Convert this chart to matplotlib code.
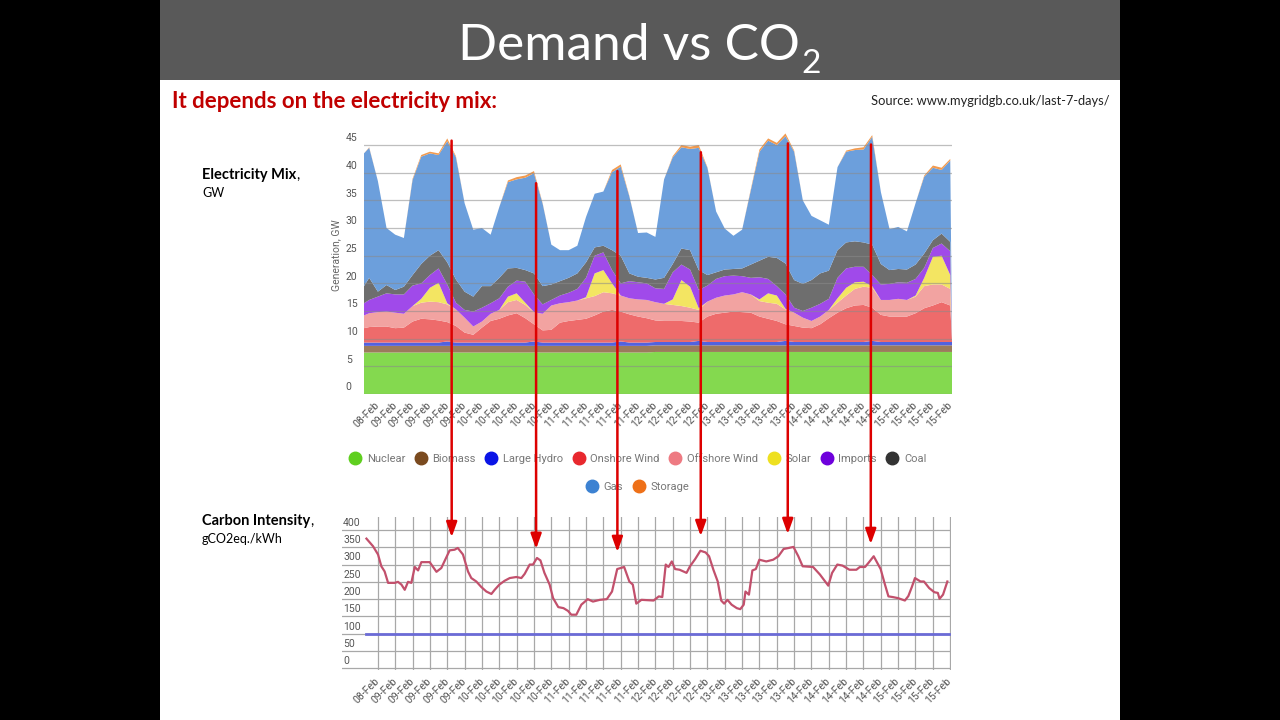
import matplotlib
matplotlib.use("Agg")
import matplotlib.pyplot as plt
from matplotlib.patches import Rectangle, ConnectionPatch
from matplotlib.lines import Line2D

# x values are in "label slots": 0 = the first 08-Feb label, 33 = the last 15-Feb label
date_labels = [
    "08-Feb",
    "09-Feb", "09-Feb", "09-Feb", "09-Feb", "09-Feb",
    "10-Feb", "10-Feb", "10-Feb", "10-Feb", "10-Feb",
    "11-Feb", "11-Feb", "11-Feb", "11-Feb", "11-Feb",
    "12-Feb", "12-Feb", "12-Feb", "12-Feb",
    "13-Feb", "13-Feb", "13-Feb", "13-Feb", "13-Feb",
    "14-Feb", "14-Feb", "14-Feb", "14-Feb", "14-Feb",
    "15-Feb", "15-Feb", "15-Feb", "15-Feb",
]

# generation mix, GW
mix_x = [-0.8, -0.5, 0.0, 0.5, 1.0, 1.5, 2.0, 2.5, 3.0, 3.5,
         4.0, 4.5, 5.0, 5.5, 6.0, 6.5, 7.0, 7.5, 8.0, 8.5,
         9.0, 9.5, 10.0, 10.5, 11.0, 11.5, 12.0, 12.5, 13.0, 13.5,
         14.0, 14.5, 15.0, 15.5, 16.0, 16.5, 17.0, 17.5, 18.0, 18.5,
         19.0, 19.5, 20.0, 20.5, 21.0, 21.5, 22.0, 22.5, 23.0, 23.5,
         24.0, 24.5, 25.0, 25.5, 26.0, 26.5, 27.0, 27.5, 28.0, 28.5,
         29.0, 29.5, 30.0, 30.5, 31.0, 31.5, 32.0, 32.5, 33.0, 33.1]
nuclear = [7.5, 7.5, 7.5, 7.5, 7.5, 7.5, 7.5, 7.5, 7.5, 7.5,
           7.5, 7.5, 7.5, 7.5, 7.5, 7.5, 7.5, 7.5, 7.5, 7.5,
           7.5, 7.5, 7.5, 7.5, 7.5, 7.5, 7.5, 7.5, 7.5, 7.5,
           7.5, 7.5, 7.5, 7.5, 7.6, 7.6, 7.6, 7.6, 7.6, 7.6,
           7.6, 7.6, 7.6, 7.6, 7.6, 7.6, 7.6, 7.6, 7.6, 7.6,
           7.6, 7.6, 7.6, 7.6, 7.6, 7.6, 7.6, 7.6, 7.6, 7.6,
           7.6, 7.6, 7.6, 7.6, 7.6, 7.6, 7.6, 7.6, 7.6, 7.6]
biomass = [1.2, 1.2, 1.2, 1.2, 1.2, 1.2, 1.2, 1.2, 1.2, 1.2,
           1.2, 1.2, 1.2, 1.2, 1.2, 1.2, 1.2, 1.2, 1.2, 1.2,
           1.2, 1.2, 1.2, 1.2, 1.2, 1.2, 1.2, 1.2, 1.2, 1.2,
           1.2, 1.2, 1.2, 1.2, 1.2, 1.2, 1.2, 1.2, 1.2, 1.2,
           1.2, 1.2, 1.2, 1.2, 1.2, 1.2, 1.2, 1.2, 1.2, 1.2,
           1.2, 1.2, 1.2, 1.2, 1.2, 1.2, 1.2, 1.2, 1.2, 1.2,
           1.2, 1.2, 1.2, 1.2, 1.2, 1.2, 1.2, 1.2, 1.2, 1.2]
hydro = [0.6, 0.6, 0.6, 0.6, 0.6, 0.6, 0.6, 0.6, 0.6, 0.6,
         0.8, 0.6, 0.6, 0.6, 0.6, 0.6, 0.6, 0.6, 0.6, 0.6,
         0.8, 0.6, 0.6, 0.6, 0.6, 0.6, 0.6, 0.6, 0.6, 0.6,
         0.8, 0.6, 0.6, 0.6, 0.6, 0.6, 0.6, 0.6, 0.6, 0.8,
         0.6, 0.6, 0.6, 0.6, 0.6, 0.6, 0.6, 0.6, 0.6, 0.8,
         0.6, 0.6, 0.6, 0.6, 0.6, 0.6, 0.6, 0.6, 0.6, 0.8,
         0.6, 0.6, 0.6, 0.6, 0.6, 0.6, 0.6, 0.6, 0.6, 0.6]
onshore = [2.6, 2.8, 2.9, 2.9, 2.6, 2.7, 3.8, 4.3, 4.2, 4.0,
           3.5, 3.0, 1.8, 1.4, 2.7, 3.9, 4.3, 4.9, 5.3, 4.4,
           3.1, 2.2, 2.3, 3.6, 3.9, 4.1, 4.3, 4.9, 5.6, 5.9,
           5.4, 5.1, 4.7, 4.4, 3.9, 3.8, 3.8, 3.8, 3.7, 3.3,
           4.6, 5.1, 5.3, 5.5, 5.4, 5.3, 4.6, 4.2, 3.8, 3.0,
           2.9, 2.6, 2.5, 3.2, 4.3, 5.3, 6.1, 6.6, 6.7, 6.0,
           4.9, 4.6, 4.6, 4.6, 5.2, 6.1, 6.6, 7.2, 6.6, 0.0]
offshore = [2.3, 2.5, 2.6, 2.7, 2.8, 2.5, 2.8, 2.9, 3.2, 3.3,
            3.2, 3.0, 2.7, 1.5, 1.1, 1.3, 1.6, 2.4, 2.4, 2.4,
            2.2, 3.0, 4.4, 3.5, 3.4, 3.5, 3.7, 3.5, 3.5, 3.0,
            2.9, 2.9, 3.1, 3.3, 3.3, 3.1, 2.9, 2.7, 2.5, 2.3,
            2.7, 2.9, 3.1, 3.1, 3.6, 3.3, 2.8, 2.9, 3.1, 2.7,
            2.4, 1.8, 1.3, 1.4, 1.5, 1.8, 2.3, 3.0, 3.3, 3.6,
            2.7, 3.0, 3.2, 3.0, 3.0, 4.0, 3.8, 3.2, 3.0, 0.0]
solar = [0.0, 0.0, 0.0, 0.0, 0.0, 0.0, 0.0, 0.7, 2.5, 3.5,
         0.2, 0.0, 0.0, 0.0, 0.0, 0.0, 0.0, 1.0, 1.2, 0.4,
         0.0, 0.0, 0.0, 0.0, 0.0, 0.0, 0.2, 4.1, 4.0, 1.8,
         0.0, 0.0, 0.0, 0.0, 0.0, 0.0, 1.0, 4.7, 3.8, 0.3,
         0.0, 0.0, 0.0, 0.0, 0.0, 0.0, 0.3, 1.7, 1.5, 0.1,
         0.0, 0.0, 0.0, 0.0, 0.0, 0.8, 1.4, 1.2, 0.9, 0.3,
         0.0, 0.0, 0.0, 0.0, 0.2, 1.5, 5.0, 5.2, 2.5, 0.0]
imports = [2.2, 2.4, 2.8, 3.3, 3.3, 3.5, 3.7, 2.8, 2.3, 2.6,
           3.4, 1.2, 1.4, 2.7, 2.5, 1.9, 2.1, 1.8, 2.3, 3.8,
           3.2, 1.7, 1.0, 1.4, 1.7, 2.1, 3.5, 3.2, 3.2, 2.4,
           2.2, 3.1, 3.1, 3.0, 2.5, 2.7, 4.9, 2.8, 3.1, 3.3,
           2.9, 3.4, 3.5, 3.4, 2.9, 3.0, 4.0, 2.6, 1.7, 2.6,
           0.9, 1.2, 2.4, 2.3, 2.0, 3.7, 3.5, 2.8, 2.7, 2.0,
           2.8, 2.9, 3.0, 3.1, 3.0, 1.8, 1.6, 2.2, 4.3, 0.0]
coal = [3.1, 4.0, 0.9, 1.5, 0.8, 1.4, 1.9, 3.5, 3.5, 3.3,
        4.0, 4.2, 3.3, 2.7, 3.9, 3.1, 3.7, 3.3, 2.3, 2.1,
        3.8, 3.3, 2.8, 2.6, 2.7, 2.8, 2.8, 1.5, 1.2, 3.6,
        5.0, 1.4, 1.0, 1.0, 1.6, 2.0, 1.5, 2.9, 3.5, 3.6,
        1.9, 1.2, 1.2, 1.2, 1.4, 2.4, 3.0, 4.0, 5.1, 5.6,
        5.0, 4.9, 5.0, 5.5, 5.1, 5.0, 4.7, 4.6, 4.4, 5.5,
        3.7, 2.5, 2.4, 2.4, 2.6, 2.6, 1.4, 1.8, 1.7, 0.0]
gas = [24.0, 23.5, 20.0, 10.3, 10.0, 8.8, 17.2, 19.4, 18.5, 17.2,
       21.9, 22.1, 16.0, 12.1, 10.5, 9.3, 12.8, 15.6, 16.0, 16.7,
       18.1, 14.9, 7.2, 5.6, 5.0, 5.0, 8.2, 9.7, 9.8, 14.1,
       16.1, 13.9, 7.9, 8.2, 7.7, 17.8, 19.3, 18.3, 18.3, 22.1,
       19.4, 11.0, 7.4, 6.0, 7.0, 13.4, 19.7, 21.0, 20.4, 23.0,
       23.2, 15.1, 11.6, 9.6, 8.3, 15.0, 16.4, 16.5, 16.8, 19.5,
       13.0, 7.4, 7.6, 6.9, 11.1, 13.9, 13.1, 11.5, 14.7, 0.0]
storage = [0.0, 0.1, 0.0, 0.0, 0.0, 0.0, 0.2, 0.3, 0.3, 0.3,
           0.5, 0.2, 0.0, 0.0, 0.0, 0.0, 0.0, 0.3, 0.4, 0.4,
           0.4, 0.1, 0.0, 0.0, 0.0, 0.0, 0.0, 0.0, 0.0, 0.4,
           0.4, 0.1, 0.0, 0.0, 0.0, 0.0, 0.2, 0.4, 0.4, 0.5,
           0.1, 0.0, 0.0, 0.0, 0.0, 0.2, 0.4, 0.4, 0.4, 0.5,
           0.2, 0.0, 0.0, 0.0, 0.0, 0.0, 0.2, 0.3, 0.4, 0.3,
           0.0, 0.0, 0.0, 0.0, 0.0, 0.2, 0.4, 0.4, 0.3, 0.0]

sources = ["Nuclear", "Biomass", "Large Hydro", "Onshore Wind", "Offshore Wind",
           "Solar", "Imports", "Coal", "Gas", "Storage"]
fill_colors = ["#84d94f", "#9b7b5c", "#5262df", "#ee6b6b", "#f2a3a1",
               "#f3e562", "#a04aea", "#6e6e6e", "#6c9fdc", "#f29a4e"]
dot_colors = ["#5fcf1f", "#7a4a1f", "#0a14e6", "#e8282e", "#ee7a82",
              "#eee020", "#6e00dc", "#333333", "#3c82d2", "#ee7018"]

# carbon intensity, gCO2eq/kWh
ci_x = [-0.67, -0.29, 0.0, 0.19, 0.38, 0.58, 0.96, 1.15, 1.35, 1.54,
        1.73, 1.92, 2.12, 2.31, 2.5, 2.98, 3.37, 3.65, 4.13, 4.42,
        4.6, 4.9, 5.19, 5.38, 5.67, 5.96, 6.25, 6.54, 6.73, 7.0,
        7.3, 7.6, 7.98, 8.27, 8.46, 8.75, 8.94, 9.17, 9.37, 9.6,
        9.9, 10.1, 10.4, 10.7, 10.96, 11.15, 11.44, 11.73, 12.1, 12.4,
        12.8, 13.2, 13.5, 13.8, 14.2, 14.5, 14.7, 14.9, 15.2,
        15.9, 16.2, 16.4, 16.6, 16.76, 16.95, 17.14, 17.4, 17.8, 18.0,
        18.3, 18.6, 18.9, 19.1, 19.35, 19.6, 19.8, 19.97, 20.16, 20.4,
        20.7, 20.9, 21.1, 21.2, 21.4, 21.6, 21.8, 22.0, 22.4, 22.8,
        23.1, 23.4, 23.7, 23.97, 24.25, 24.5, 25.1, 25.5, 25.98, 26.2,
        26.5, 26.8, 27.2, 27.6, 27.8, 28.1, 28.3, 28.6, 29.0, 29.25,
        29.45, 29.7, 30.0, 30.4, 30.6, 30.8, 30.98, 31.3, 31.5, 31.8,
        32.1, 32.3, 32.4, 32.6, 32.85]
ci_values = [375, 353, 329, 295, 280, 247, 247, 250, 242, 227,
             250, 247, 293, 283, 307, 307, 279, 290, 341, 343,
             348, 329, 280, 261, 251, 235, 222, 215, 227, 242,
             253, 261, 264, 261, 273, 300, 300, 319, 312, 276,
             242, 203, 177, 174, 166, 155, 155, 184, 200, 193,
             198, 200, 222, 287, 293, 251, 242, 187, 198,
             196, 208, 206, 300, 293, 309, 287, 285, 276, 295,
             316, 340, 335, 324, 285, 251, 196, 187, 198, 184,
             174, 171, 184, 222, 213, 283, 287, 314, 309, 314,
             324, 345, 348, 351, 324, 295, 293, 271, 239, 276,
             300, 297, 285, 285, 293, 293, 305, 324, 287, 242,
             208, 206, 203, 196, 209, 235, 261, 251, 251, 232,
             220, 218, 201, 213, 251]
target_x = [-0.67, 32.95]
target_ci = [100, 100]

# demand peaks linked to carbon intensity peaks
peak_x = [4.25, 9.12, 13.81, 18.62, 23.64, 28.43]
peak_gw = [45.8, 38.1, 40.3, 43.7, 45.3, 45.1]
peak_ci = [379, 345, 336, 382, 388, 359]

W, H = 1280, 720


def fx(px):
    return px / W


def fy(py):
    return 1 - py / H


fig = plt.figure(figsize=(12.8, 7.2), dpi=100, facecolor="black")

# slide background and title bar
fig.add_artist(Rectangle((fx(160), 0), fx(960), 1, transform=fig.transFigure,
                         facecolor="white", edgecolor="none", zorder=-10))
fig.add_artist(Rectangle((fx(160), fy(80)), fx(960), 80 / H, transform=fig.transFigure,
                         facecolor="#595959", edgecolor="none", zorder=-9))

title = fig.text(fx(458), fy(60), "Demand vs CO", color="white", fontsize=37,
                 family="Lato", va="baseline")
heading = fig.text(fx(202), fy(175), "Electricity Mix", fontsize=10.5, fontweight="bold",
                   family="Lato", va="center")
heading2 = fig.text(fx(202), fy(521), "Carbon Intensity", fontsize=10.5, fontweight="bold",
                    family="Lato", va="center")
fig.canvas.draw()
tb = title.get_window_extent()
fig.text(tb.x1 / W + 0.001, fy(73), "2", color="white", fontsize=24,
         family="Lato", va="baseline")
fig.text(heading.get_window_extent().x1 / W, fy(175), ",", fontsize=10.5,
         family="Lato", va="center")
fig.text(heading2.get_window_extent().x1 / W, fy(521), ",", fontsize=10.5,
         family="Lato", va="center")

fig.text(fx(172), fy(102), "It depends on the electricity mix:", color="#c00000",
         fontsize=16, fontweight="bold", family="Lato", va="center")
fig.text(fx(1110), fy(101), "Source: www.mygridgb.co.uk/last-7-days/", color="#222222",
         fontsize=9.3, family="Lato", va="center", ha="right")
fig.text(fx(202), fy(193), "GW", fontsize=9, family="Lato", va="center")
fig.text(fx(202), fy(539), "gCO2eq./kWh", fontsize=9, family="Lato", va="center")

label_kw = dict(family="Roboto", fontsize=7.5, color="#555555")

# ---- electricity mix (stacked areas)
ax1 = fig.add_axes([fx(364), fy(394), fx(952) - fx(364), (394 - 125.7) / H])
ax1.stackplot(mix_x, nuclear, biomass, hydro, onshore, offshore, solar, imports,
              coal, gas, storage, colors=fill_colors, linewidth=0)
ax1.set_xlim(-0.8, 33.1)
ax1.set_ylim(0, 48.5)
ax1.set_yticks(range(0, 46, 5))
ax1.set_yticklabels([])
ax1.set_xticks(range(len(date_labels)))
ax1.set_xticklabels(date_labels, rotation=45, ha="right", va="center",
                    rotation_mode="anchor", **label_kw)
ax1.tick_params(axis="both", length=0)
ax1.tick_params(axis="x", pad=7)
ax1.grid(axis="y", color="#8a8a8a", alpha=0.55, linewidth=0.9)
ax1.set_axisbelow(False)
for s in ax1.spines.values():
    s.set_visible(False)
for v in range(0, 46, 5):
    ax1.text(-0.031, v + 0.3, str(v), transform=ax1.get_yaxis_transform(),
             ha="left", va="bottom", **label_kw)
fig.text(fx(336), fy(255), "Generation, GW", rotation=90, ha="center", va="center",
         family="Roboto", fontsize=7.5, color="#666666")

# legend, two centred rows
handles = [Line2D([], [], linestyle="none", marker="o", markersize=9,
                  markerfacecolor=c, markeredgecolor=c) for c in dot_colors]
leg_kw = dict(frameon=False, handlelength=1.0, handletextpad=0.55, columnspacing=0.9,
              prop={"family": "Roboto", "size": 8}, labelcolor="#777777", loc="center")
fig.legend(handles[:8], sources[:8], ncol=8, bbox_to_anchor=(fx(638), fy(459)), **leg_kw)
fig.legend(handles[8:], sources[8:], ncol=2, bbox_to_anchor=(fx(638), fy(487)), **leg_kw)

# ---- carbon intensity
ax2 = fig.add_axes([fx(342), fy(669.7), fx(951) - fx(342), (669.7 - 517) / H])
ax2.plot(target_x, target_ci, color="#6b6bd6", linewidth=2)
ax2.plot(ci_x, ci_values, color="#c2506c", linewidth=1.6)
ax2.set_xlim(-2.08, 33.06)
ax2.set_ylim(-4, 437.5)
ax2.set_yticks(range(0, 401, 50))
ax2.set_yticklabels([])
ax2.set_xticks(range(len(date_labels)))
ax2.set_xticklabels(date_labels, rotation=45, ha="right", va="center",
                    rotation_mode="anchor", **label_kw)
ax2.tick_params(axis="both", length=0)
ax2.tick_params(axis="x", pad=7)
ax2.grid(color="#a8a8a8", linewidth=0.9)
ax2.set_axisbelow(True)
for s in ax2.spines.values():
    s.set_visible(False)
for v in range(0, 401, 50):
    ax2.text(0.002, v + 6, str(v), transform=ax2.get_yaxis_transform(),
             ha="left", va="bottom", **label_kw)

# red arrows from demand peaks down to carbon-intensity peaks
for x, g, c in zip(peak_x, peak_gw, peak_ci):
    arrow = ConnectionPatch(xyA=(x, g), coordsA=ax1.transData,
                            xyB=(x, c), coordsB=ax2.transData,
                            arrowstyle="-|>,head_length=0.9,head_width=0.32",
                            mutation_scale=10, color="#dd0000", linewidth=1.8,
                            zorder=20)
    fig.add_artist(arrow)

fig.savefig("out.png", dpi=100, facecolor="black")
